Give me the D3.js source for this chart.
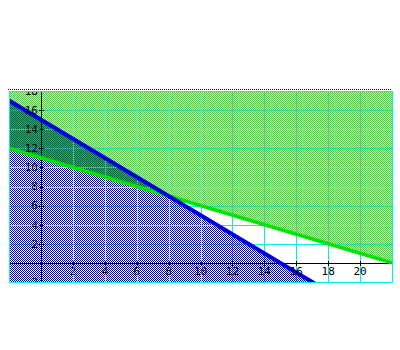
<!DOCTYPE html>
<html>
<head>
<meta charset="utf-8">
<script src="https://cdn.jsdelivr.net/npm/d3@7"></script>
<style>
  body { margin: 0; background: #fff; }
  svg { display: block; }
  .lbl { font-family: "DejaVu Sans Mono", monospace; font-size: 11px; fill: #000; }
</style>
</head>
<body>
<svg id="chart"></svg>
<script>
var width = 400;
var height = 350;

// axis extent and tick labels
var xDomain = [-2, 22];
var yDomain = [-2, 18];
var xGrid = [-2, 0, 2, 4, 6, 8, 10, 12, 14, 16, 18, 20, 22];
var yGrid = [-2, 0, 2, 4, 6, 8, 10, 12, 14, 16, 18];
var xTicks = [2, 4, 6, 8, 10, 12, 14, 16, 18, 20];
var yTicks = [-2, 2, 4, 6, 8, 10, 12, 14, 16, 18];

// constraint lines, two points each (intercepts)
var blueLine = [[0, 15], [15, 0]];
var greenLine = [[0, 11], [22, 0]];

var x = d3.scaleLinear().domain(xDomain).range([9, 392]);
var y = d3.scaleLinear().domain(yDomain).range([282, 91]);

var svg = d3.select('#chart').attr('width', width).attr('height', height);
var defs = svg.append('defs');

function checker(id, c1, c2) {
  var p = defs.append('pattern')
      .attr('id', id)
      .attr('patternUnits', 'userSpaceOnUse')
      .attr('width', 2)
      .attr('height', 2);
  p.append('rect').attr('width', 2).attr('height', 2).attr('fill', c2);
  p.append('rect').attr('x', 0).attr('y', 0).attr('width', 1).attr('height', 1).attr('fill', c1);
  p.append('rect').attr('x', 1).attr('y', 1).attr('width', 1).attr('height', 1).attr('fill', c1);
}
checker('pGreen', '#48d048', '#b8f6a0');
checker('pBlue', '#0000c8', '#ffffff');
checker('pBoth', '#005c6c', '#30b040');

defs.append('clipPath').attr('id', 'plotClip')
  .append('rect')
    .attr('x', x(xDomain[0]))
    .attr('y', y(yDomain[1]))
    .attr('width', x(xDomain[1]) - x(xDomain[0]))
    .attr('height', y(yDomain[0]) - y(yDomain[1]));

function lineAt(line, xv) {
  var p0 = line[0], p1 = line[1];
  return p0[1] + (xv - p0[0]) * (p1[1] - p0[1]) / (p1[0] - p0[0]);
}

var greenPoly = [
  [xDomain[0], lineAt(greenLine, xDomain[0])],
  [xDomain[1], lineAt(greenLine, xDomain[1])],
  [xDomain[1], yDomain[1]],
  [xDomain[0], yDomain[1]]
];
var bluePoly = [
  [xDomain[0], lineAt(blueLine, xDomain[0])],
  [xDomain[1], lineAt(blueLine, xDomain[1])],
  [xDomain[1], yDomain[0] - 10],
  [xDomain[0], yDomain[0] - 10]
];

function poly(pts) {
  return pts.map(function(p) { return x(p[0]) + ',' + y(p[1]); }).join(' ');
}

defs.append('clipPath').attr('id', 'blueClip')
  .append('polygon').attr('points', poly(bluePoly));

// top dotted rule
svg.append('line')
    .attr('x1', 8).attr('x2', 392)
    .attr('y1', 89.5).attr('y2', 89.5)
    .attr('stroke', '#000')
    .attr('stroke-dasharray', '1,1')
    .attr('shape-rendering', 'crispEdges');

var plot = svg.append('g').attr('clip-path', 'url(#plotClip)');

function grid(g, dash) {
  g.selectAll('line.v')
    .data(xGrid)
    .enter()
    .append('line')
      .attr('x1', function(d) { return Math.round(x(d)) + 0.5; })
      .attr('x2', function(d) { return Math.round(x(d)) + 0.5; })
      .attr('y1', y(yDomain[1]))
      .attr('y2', y(yDomain[0]));
  g.selectAll('line.h')
    .data(yGrid)
    .enter()
    .append('line')
      .attr('y1', function(d) { return Math.round(y(d)) + 0.5; })
      .attr('y2', function(d) { return Math.round(y(d)) + 0.5; })
      .attr('x1', x(xDomain[0]))
      .attr('x2', x(xDomain[1]));
  g.attr('stroke', '#00f0f0')
    .attr('shape-rendering', 'crispEdges');
  if (dash) g.attr('stroke-dasharray', '1,1');
}

grid(plot.append('g'), false);

plot.append('polygon').attr('points', poly(greenPoly)).attr('fill', 'url(#pGreen)');
plot.append('polygon').attr('points', poly(bluePoly)).attr('fill', 'url(#pBlue)');
plot.append('polygon').attr('points', poly(greenPoly))
    .attr('clip-path', 'url(#blueClip)')
    .attr('fill', 'url(#pBoth)');

grid(plot.append('g'), true);

// axes through the origin
plot.append('line')
    .attr('x1', Math.round(x(0)) + 0.5).attr('x2', Math.round(x(0)) + 0.5)
    .attr('y1', y(yDomain[1])).attr('y2', y(yDomain[0]))
    .attr('stroke', '#000').attr('shape-rendering', 'crispEdges');
plot.append('line')
    .attr('y1', Math.round(y(0)) + 0.5).attr('y2', Math.round(y(0)) + 0.5)
    .attr('x1', x(xDomain[0])).attr('x2', x(xDomain[1]))
    .attr('stroke', '#000').attr('shape-rendering', 'crispEdges');

plot.selectAll('line.ytick')
  .data(yTicks)
  .enter()
  .append('line')
    .attr('x1', Math.round(x(0)) - 2).attr('x2', Math.round(x(0)) + 3)
    .attr('y1', function(d) { return Math.round(y(d)) + 0.5; })
    .attr('y2', function(d) { return Math.round(y(d)) + 0.5; })
    .attr('stroke', '#000').attr('shape-rendering', 'crispEdges');
plot.selectAll('line.xtick')
  .data(xTicks)
  .enter()
  .append('line')
    .attr('y1', Math.round(y(0)) - 2).attr('y2', Math.round(y(0)) + 3)
    .attr('x1', function(d) { return Math.round(x(d)) + 0.5; })
    .attr('x2', function(d) { return Math.round(x(d)) + 0.5; })
    .attr('stroke', '#000').attr('shape-rendering', 'crispEdges');

// constraint lines
var lineGen = d3.line()
  .x(function(d) { return x(d[0]); })
  .y(function(d) { return y(d[1]); });

plot.append('path')
    .attr('d', lineGen([greenPoly[0], greenPoly[1]]))
    .attr('stroke', '#00e400')
    .attr('stroke-width', 3.6)
    .attr('fill', 'none');
plot.append('path')
    .attr('d', lineGen([bluePoly[0], bluePoly[1]]))
    .attr('stroke', '#0000dc')
    .attr('stroke-width', 4)
    .attr('fill', 'none');

// tick labels
plot.selectAll('text.yl')
  .data(yTicks)
  .enter()
  .append('text')
    .attr('class', 'lbl')
    .attr('x', x(0) - 3)
    .attr('y', function(d) { return y(d); })
    .attr('dy', '0.35em')
    .attr('text-anchor', 'end')
    .text(function(d) { return d; });
plot.selectAll('text.xl')
  .data(xTicks)
  .enter()
  .append('text')
    .attr('class', 'lbl')
    .attr('x', function(d) { return x(d); })
    .attr('y', y(0) + 12)
    .attr('text-anchor', 'middle')
    .text(function(d) { return d; });

// plot border
svg.append('rect')
    .attr('x', Math.round(x(xDomain[0])) + 0.5)
    .attr('y', Math.round(y(yDomain[1])) + 0.5)
    .attr('width', Math.round(x(xDomain[1])) - Math.round(x(xDomain[0])))
    .attr('height', Math.round(y(yDomain[0])) - Math.round(y(yDomain[1])))
    .attr('fill', 'none')
    .attr('stroke', '#00f0f0')
    .attr('shape-rendering', 'crispEdges');
</script>
</body>
</html>
